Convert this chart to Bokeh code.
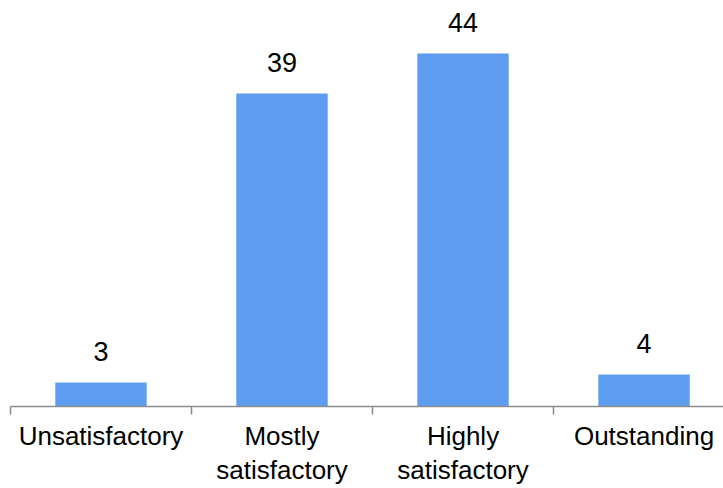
from bokeh.plotting import figure
from bokeh.models import ColumnDataSource, Range1d, FixedTicker, LinearAxis
from bokeh.core.properties import value
from bokeh.embed import file_html
from bokeh.resources import INLINE

categories = ["Unsatisfactory", "Mostly\nsatisfactory", "Highly\nsatisfactory", "Outstanding"]
counts = [3, 39, 44, 4]

xs = [i + 0.5 for i in range(len(categories))]
src = ColumnDataSource(dict(x=xs, top=counts, label=[str(c) for c in counts]))

p = figure(width=723, height=488, output_backend="svg", toolbar_location=None,
           x_range=Range1d(0, 3.939), y_range=Range1d(0, 50.6),
           x_axis_location=None, y_axis_location=None,
           min_border_left=10, min_border_right=0, min_border_top=0, min_border_bottom=20)
p.outline_line_color = None
p.grid.visible = False
p.background_fill_color = "white"

p.vbar(x="x", top="top", width=0.505, bottom=0, source=src, fill_color="#5E9CF0", line_color=None)
p.text(x="x", y="top", text="label", source=src, text_align="center", text_baseline="alphabetic",
       y_offset=-31, text_font=value("Liberation Sans"), text_font_size="27px", text_color="black")

ax = LinearAxis(ticker=FixedTicker(ticks=xs, minor_ticks=[0, 1, 2, 3, 4]))
ax.major_label_overrides = {x: c for x, c in zip(xs, categories)}
ax.major_tick_line_color = None
ax.major_tick_out = 0
ax.major_tick_in = 0
ax.minor_tick_out = 8
ax.minor_tick_in = 0
ax.minor_tick_line_color = "#8c8c8c"
ax.minor_tick_line_width = 1.5
ax.axis_line_color = "#8c8c8c"
ax.axis_line_width = 1.5
ax.major_label_standoff = 6
ax.major_label_text_font = "Liberation Sans"
ax.major_label_text_font_size = "26px"
ax.major_label_text_color = "black"
ax.major_label_text_line_height = 1.15
p.add_layout(ax, "below")

open("out.html", "w").write(file_html(p, INLINE))
